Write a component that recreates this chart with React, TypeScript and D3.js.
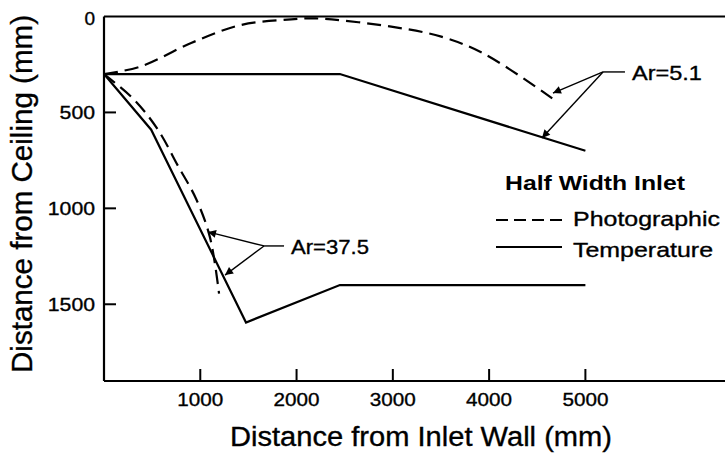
import React from 'react';
import * as d3 from 'd3';

type Pt = [number, number];

// Distance from inlet wall (mm), distance from ceiling (mm)
const photoLowAr: Pt[] = [
  [0, 300], [385, 260], [905, 138], [1424, 44], [1944, 15], [2200, 10],
  [2983, 53], [3503, 105], [3950, 195], [4680, 435],
];
const tempLowAr: Pt[] = [[0, 300], [2450, 300], [5000, 700]];
const photoHighAr: Pt[] = [
  [0, 300], [312, 433], [560, 590], [770, 780], [956, 950], [1100, 1150], [1195, 1445],
];
const tempHighAr: Pt[] = [[0, 300], [490, 590], [1475, 1595], [2450, 1400], [5000, 1400]];

const xTicks = [1000, 2000, 3000, 4000, 5000];
const yTicks = [0, 500, 1000, 1500];

// annotation callouts: hub, label line end, label, arrow targets (data units)
const callouts = [
  { hub: [5183, 289] as Pt, end: [5411, 289] as Pt, label: 'Ar=5.1', len: 70, targets: [[4663, 399], [4549, 633]] as Pt[] },
  { hub: [1662, 1196] as Pt, end: [1870, 1196] as Pt, label: 'Ar=37.5', len: 78, targets: [[1080, 1123], [1257, 1348]] as Pt[] },
];

const W = 726;
const H = 455;
const FONT = '"Liberation Sans", Arial, Helvetica, sans-serif';

const App: React.FC = () => {
  const x = d3.scaleLinear().domain([0, 6450]).range([104, 725]);
  const y = d3.scaleLinear().domain([0, 1900]).range([16.5, 381]);

  const smooth = d3.line<Pt>()
    .x(d => x(d[0]))
    .y(d => y(d[1]))
    .curve(d3.curveCatmullRom.alpha(0.5));
  const straight = d3.line<Pt>()
    .x(d => x(d[0]))
    .y(d => y(d[1]));

  const [x0, x1] = x.range();
  const [y0, y1] = y.range();

  // slightly heavier text, like the printed original
  const heavy = { stroke: '#000', strokeWidth: 0.35 };

  return (
    <svg width={W} height={H} style={{ display: 'block', position: 'absolute', left: 0, top: 0 }}>
      <defs>
        <marker id="arrow" viewBox="0 0 10 10" refX="10" refY="5" markerWidth="10" markerHeight="8"
          markerUnits="userSpaceOnUse" orient="auto">
          <path d="M0,0 L10,5 L0,10 Z" fill="#000" />
        </marker>
      </defs>
      <rect width={W} height={H} fill="#fff" />

      {/* frame: ceiling, inlet wall, floor */}
      <g stroke="#000" strokeWidth={2.2} fill="none">
        <line x1={x0} x2={x1} y1={y0} y2={y0} />
        <line x1={x0} x2={x0} y1={y0} y2={y1} />
        <line x1={x0} x2={x1} y1={y1} y2={y1} />
      </g>

      {/* ticks */}
      <g fontFamily={FONT} fontSize={19}>
        {yTicks.map(t => (
          <g key={t}>
            {t > 0 && <line x1={x0} x2={x0 + 12} y1={y(t)} y2={y(t)} stroke="#000" strokeWidth={2} />}
            <text x={x0 - 9} y={y(t) + (t === 0 ? 2 : 0)} textAnchor="end" dominantBaseline="central"
              textLength={t === 0 ? undefined : String(t).length * 11.8} lengthAdjust="spacingAndGlyphs" {...heavy}>{t}</text>
          </g>
        ))}
        {xTicks.map(t => (
          <g key={t}>
            <line x1={x(t)} x2={x(t)} y1={y1} y2={y1 - 12} stroke="#000" strokeWidth={2} />
            <text x={x(t)} y={y1 + 18} textAnchor="middle" dominantBaseline="central"
              textLength={46} lengthAdjust="spacingAndGlyphs" {...heavy}>{t}</text>
          </g>
        ))}
      </g>

      {/* data */}
      <g fill="none" stroke="#000" strokeWidth={2.2}>
        <path d={smooth(photoLowAr) ?? ''} strokeDasharray="14 7" />
        <path d={smooth(photoHighAr) ?? ''} strokeDasharray="14 7" />
        <path d={straight(tempLowAr) ?? ''} />
        <path d={straight(tempHighAr) ?? ''} />
      </g>

      {/* callouts */}
      <g stroke="#000" strokeWidth={1.4} fill="none">
        {callouts.map(c => (
          <g key={c.label}>
            <line x1={x(c.hub[0])} y1={y(c.hub[1])} x2={x(c.end[0])} y2={y(c.end[1])} />
            {c.targets.map((t, i) => (
              <line key={i} x1={x(c.hub[0])} y1={y(c.hub[1])} x2={x(t[0])} y2={y(t[1])} markerEnd="url(#arrow)" />
            ))}
          </g>
        ))}
      </g>
      <g fontFamily={FONT} fontSize={21}>
        {callouts.map(c => (
          <text key={c.label} x={x(c.end[0]) + 7} y={y(c.end[1]) + 1} dominantBaseline="central"
            textLength={c.len} lengthAdjust="spacingAndGlyphs" {...heavy}>{c.label}</text>
        ))}
      </g>

      {/* legend */}
      <g fontFamily={FONT}>
        <text x={505} y={182} fontSize={21} fontWeight="bold" dominantBaseline="central" textLength={180} lengthAdjust="spacingAndGlyphs">Half Width Inlet</text>
        <line x1={496} x2={562} y1={220} y2={220} stroke="#000" strokeWidth={2.2} strokeDasharray="12 6" />
        <text x={573} y={218} fontSize={21} dominantBaseline="central" textLength={147} lengthAdjust="spacingAndGlyphs" {...heavy}>Photographic</text>
        <line x1={496} x2={562} y1={247} y2={247} stroke="#000" strokeWidth={2.2} />
        <text x={573} y={249} fontSize={21} dominantBaseline="central" textLength={140} lengthAdjust="spacingAndGlyphs" {...heavy}>Temperature</text>
      </g>

      {/* axis titles */}
      <text x={230} y={446} fontFamily={FONT} fontSize={27} textLength={382} lengthAdjust="spacingAndGlyphs" {...heavy}>
        Distance from Inlet Wall (mm)
      </text>
      <text transform="translate(32,373) rotate(-90)" fontFamily={FONT} fontSize={29} textLength={358} lengthAdjust="spacingAndGlyphs" {...heavy}>
        Distance from Ceiling (mm)
      </text>
    </svg>
  );
};

export default App;
